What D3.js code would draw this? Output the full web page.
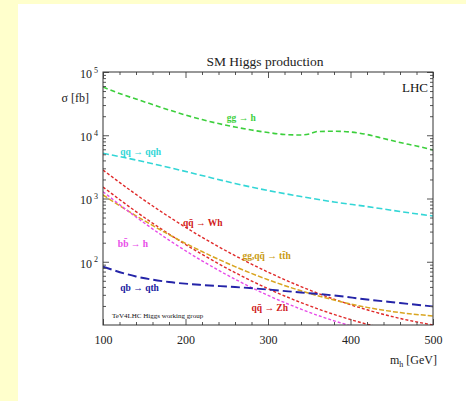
<!DOCTYPE html>
<html>
<head>
<meta charset="utf-8">
<style>
  body { margin: 0; background: #ffffcc; }
  text { font-family: "Liberation Serif", serif; }
</style>
</head>
<body>
<svg width="466" height="401"></svg>
<script src="https://d3js.org/d3.v7.min.js"></script>
<script>

  // cross sections in fb
  var massGG = [100, 120, 140, 160, 180, 200, 220, 240, 260, 280, 300, 320, 340, 350, 360, 380, 400, 420, 440, 460, 480, 500];
  var sigmaGG = [57900, 45700, 37400, 30600, 25100, 20900, 17700, 15300, 13500, 12100, 11050, 10280, 10090, 10470, 11460, 11550, 11250, 10280, 8890, 7680, 6760, 5850];

  var mass = [100, 140, 180, 220, 260, 300, 340, 380, 420, 460, 500];
  var sigmaQQH = [5183, 4061, 3091, 2310, 1727, 1338, 1075, 881, 747, 623, 529];
  var sigmaWH = [2822, 1161, 514, 244, 125, 68.6, 40.5, 25.6, 17.4, 12.7, 10];
  var sigmaTTH = [1136, 533, 268, 145, 83.8, 52.0, 34.7, 24.8, 19.0, 15.7, 13.9];
  var sigmaQTH = [83.5, 58.4, 47.9, 42.9, 39.9, 36.4, 32.6, 29.3, 25.3, 22.3, 19.6];

  var massZH = [100, 140, 180, 220, 260, 300, 340, 380, 420, 440];
  var sigmaZH = [1520, 621, 274, 131, 67.4, 37.5, 22.6, 14.7, 10.3, 8.9];

  var massBBH = [100, 140, 180, 220, 260, 300, 340, 380, 420];
  var sigmaBBH = [1281, 510, 220, 103.5, 53.0, 29.4, 17.8, 11.65, 8.3];

  var xTicks = [100, 200, 300, 400, 500];
  var yTicks = [1e2, 1e3, 1e4, 1e5];

  var svg = d3.select("svg"),
    margin = {top: 72, right: 33, bottom: 76, left: 103},
    width = +svg.attr("width") - margin.left - margin.right,
    height = +svg.attr("height") - margin.top - margin.bottom;

  svg.append("rect")
    .attr("x", 18).attr("y", 4)
    .attr("width", 466 - 18).attr("height", 401 - 4)
    .attr("fill", "#ffffff");

  var g = svg.append("g").attr("transform", "translate(" + margin.left + "," + margin.top + ")");

  var x = d3.scaleLinear().domain([100, 500]).range([0, width]);
  var y = d3.scaleLog().domain([10, 1e5]).range([height, 0]);

  var xMinor = d3.range(120, 500, 20).filter(function (d) { return d % 100 !== 0; });
  var yMinor = y.ticks().filter(function (d) {
    var e = Math.log10(d);
    return Math.abs(e - Math.round(e)) > 1e-6;
  });

  g.append("clipPath").attr("id", "clip")
    .append("rect").attr("width", width).attr("height", height);

  var series = [
    {m: massGG, s: sigmaGG, color: "#3ccf3c", dash: "5,3", w: 1.6},
    {m: mass, s: sigmaQQH, color: "#33d6d6", dash: "6,3", w: 1.6},
    {m: mass, s: sigmaWH, color: "#e02a2a", dash: "3,2", w: 1.4},
    {m: massZH, s: sigmaZH, color: "#e02a2a", dash: "3,2", w: 1.4},
    {m: mass, s: sigmaTTH, color: "#d9a520", dash: "5,2", w: 1.5},
    {m: massBBH, s: sigmaBBH, color: "#e84be8", dash: "3,2", w: 1.4},
    {m: mass, s: sigmaQTH, color: "#2424a8", dash: "9,4", w: 1.9}
  ];

  var line = d3.line()
    .x(function (d) { return x(d[0]); })
    .y(function (d) { return y(d[1]); })
    .curve(d3.curveMonotoneX);

  g.append("g").attr("clip-path", "url(#clip)")
    .selectAll("path")
    .data(series)
    .enter().append("path")
    .attr("fill", "none")
    .attr("stroke", function (d) { return d.color; })
    .attr("stroke-width", function (d) { return d.w; })
    .attr("stroke-dasharray", function (d) { return d.dash; })
    .attr("d", function (d) { return line(d3.zip(d.m, d.s)); });

  // frame and ticks (all pointing inward)
  function axes(major) {
    g.append("g").attr("transform", "translate(0," + height + ")")
      .call(d3.axisBottom(x).tickValues(major ? xTicks : xMinor).tickSize(major ? -6 : -3).tickPadding(10)
        .tickFormat(major ? d3.format("d") : ""));
    g.append("g")
      .call(d3.axisTop(x).tickValues(major ? xTicks : xMinor).tickSize(major ? -6 : -3).tickFormat(""));
    g.append("g").attr("class", major ? "yleft" : null)
      .call(d3.axisLeft(y).tickValues(major ? yTicks : yMinor).tickSize(major ? -6 : -3).tickPadding(5)
        .tickFormat(major ? function () { return "10"; } : ""));
    g.append("g").attr("transform", "translate(" + width + ",0)")
      .call(d3.axisRight(y).tickValues(major ? yTicks : yMinor).tickSize(major ? -6 : -3).tickFormat(""));
  }
  axes(true);
  axes(false);

  g.selectAll(".domain").remove();
  g.selectAll(".tick line").attr("stroke", "#555");
  g.selectAll(".tick text")
    .attr("font-family", "Liberation Serif")
    .attr("font-size", 12)
    .attr("fill", "#222");

  g.selectAll(".yleft .tick text")
    .attr("dy", "0.45em")
    .append("tspan")
    .attr("dx", 2)
    .attr("dy", "-0.65em")
    .attr("font-size", 8)
    .text(function (d) { return Math.round(Math.log10(d)); });

  g.append("rect")
    .attr("width", width).attr("height", height)
    .attr("fill", "none").attr("stroke", "#333").attr("stroke-width", 1);

  // curve labels
  var labels = [
    {t: "gg \u2192 h", m: 250, s: 16800, color: "#3ccf3c"},
    {t: "qq \u2192 qqh", m: 121, s: 4875, color: "#33d6d6"},
    {t: "qq\u0304 \u2192 Wh", m: 197, s: 367, color: "#d02020"},
    {t: "bb\u0304 \u2192 h", m: 118, s: 171, color: "#e84be8"},
    {t: "gg,qq\u0304 \u2192 tt\u0304h", m: 269, s: 110, color: "#c99a10"},
    {t: "qb \u2192 qth", m: 121, s: 34.5, color: "#2020a0"},
    {t: "qq\u0304 \u2192 Zh", m: 280, s: 16.6, color: "#d02020"}
  ];

  g.selectAll(".lbl")
    .data(labels)
    .enter().append("text")
    .attr("class", "lbl")
    .attr("x", function (d) { return x(d.m); })
    .attr("y", function (d) { return y(d.s); })
    .attr("font-family", "Liberation Sans")
    .attr("font-size", 9.5)
    .attr("font-weight", "bold")
    .attr("fill", function (d) { return d.color; })
    .text(function (d) { return d.t; });

  g.append("text")
    .attr("x", x(111)).attr("y", y(12.9))
    .attr("font-family", "Liberation Sans")
    .attr("font-size", 7)
    .attr("fill", "#111")
    .text("TeV4LHC Higgs working group");

  g.append("text")
    .attr("x", width - 5).attr("y", 20)
    .attr("text-anchor", "end")
    .attr("font-family", "Liberation Sans")
    .attr("font-size", 13)
    .attr("fill", "#111")
    .text("LHC");

  svg.append("text")
    .attr("x", margin.left + width / 2 - 3).attr("y", 66)
    .attr("text-anchor", "middle")
    .attr("font-size", 13.5)
    .attr("fill", "#222")
    .text("SM Higgs production");

  svg.append("text")
    .attr("x", 89).attr("y", 102)
    .attr("text-anchor", "end")
    .attr("font-size", 12)
    .attr("fill", "#222")
    .text("\u03c3 [fb]");

  var xl = svg.append("text")
    .attr("x", 437).attr("y", 364)
    .attr("text-anchor", "end")
    .attr("font-size", 12)
    .attr("fill", "#222");
  xl.append("tspan").text("m");
  xl.append("tspan").attr("dy", 3).attr("font-size", 8).text("h");
  xl.append("tspan").attr("dy", -3).text(" [GeV]");

</script>
</body>
</html>
